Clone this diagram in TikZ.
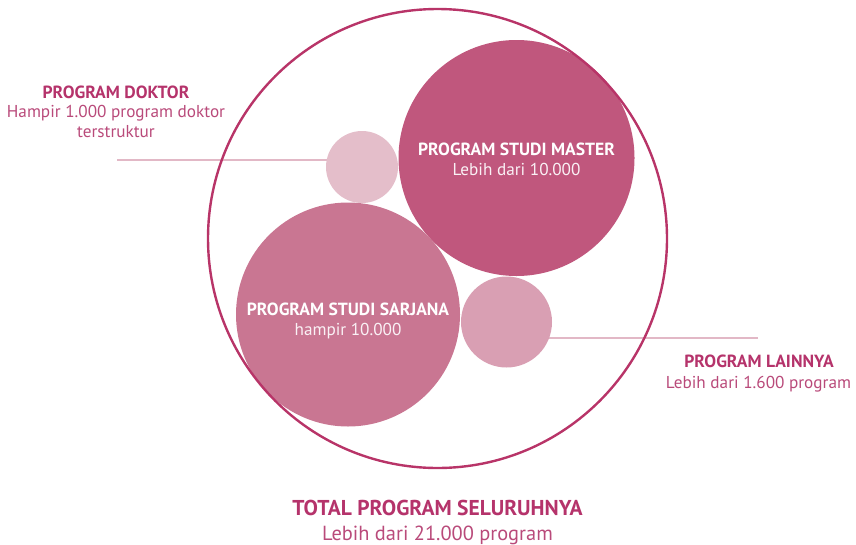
\documentclass[tikz,border=0pt]{standalone}
\usepackage{fontspec}
\setmainfont{PT Sans}
\usetikzlibrary{positioning}
\usetikzlibrary{backgrounds}
\definecolor{ringcol}{HTML}{B83468}
\definecolor{titlecol}{HTML}{B5336B}
\definecolor{subcol}{HTML}{B94A7A}
\definecolor{mastercol}{HTML}{C0577D}
\definecolor{sarjanacol}{HTML}{C97692}
\definecolor{doktorcol}{HTML}{E4BECA}
\definecolor{laincol}{HTML}{D99FB3}
\definecolor{leadcol}{HTML}{E2B8C6}
\tikzset{x=1pt, y=-1pt,
bubble/.style={ % filled circles
circle, inner sep=0pt, draw=none},
ttl/.style={
font=\bfseries\fontsize{17.6}{20}\selectfont,
text=titlecol, anchor=base, inner sep=0pt},
sub/.style={
font=\fontsize{17.2}{19.5}\selectfont,
text=subcol, anchor=base, inner sep=0pt, align=center},
inttl/.style={ttl, text=white},
insub/.style={sub, text=white!92!mastercol},
leader/.style={ % lines to the outer labels
draw=leadcol, line width=2.2pt}}
\begin{document}
\begin{tikzpicture}
\useasboundingbox (0,0) rectangle (856,544);
\node[bubble, fill=mastercol, minimum size=236pt] (master) at (516.5,158) {};
\node[bubble, fill=sarjanacol, minimum size=224pt] (sarjana) at (348,314.5) {};
\node[bubble, fill=doktorcol, minimum size=72pt] (doktor) at (362,167) {};
\node[bubble, fill=laincol, minimum size=91pt] (lainnya) at (506.5,322) {};
\node[circle, draw=ringcol, line width=2.4pt, minimum size=459pt] (total) at (437.5,238.5) {};
% labels inside
\node[inttl] (masterT) at (516.5,155) {PROGRAM STUDI MASTER};
\node[insub] (masterS) at (516.5,175) {Lebih dari 10.000};
\node[inttl] (sarjanaT) at (348,315) {PROGRAM STUDI SARJANA};
\node[insub] (sarjanaS) at (348,335) {hampir 10.000};
% labels outside
\node[ttl] (doktorT) at (116,98) {PROGRAM DOKTOR};
\node[sub] (doktorS) at (116,117) {Hampir 1.000 program doktor};
\node[sub] (doktorS2) at (116,137) {terstruktur};
\node[ttl] (lainT) at (759,367) {PROGRAM LAINNYA};
\node[sub] (lainS) at (758.5,388) {Lebih dari 1.600 program};
\node[ttl, font=\bfseries\fontsize{21.5}{24}\selectfont] (totalT) at (437.5,515) {TOTAL PROGRAM SELURUHNYA};
\node[sub, font=\fontsize{20.4}{22}\selectfont] (totalS) at (437.5,540) {Lebih dari 21.000 program};
\coordinate (dk) at (117,160);
\coordinate (lk) at (758,338);
\begin{scope}[on background layer]
\draw[leader] (dk) -- (dk -| doktor.center);
\draw[leader] (lk) -- (lk -| lainnya.center);
\end{scope}
\end{tikzpicture}
\end{document}
